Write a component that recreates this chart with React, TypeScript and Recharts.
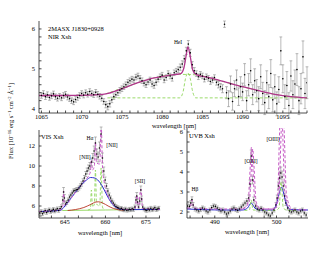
import React from 'react';
import { LineChart, Line, XAxis, YAxis, ErrorBar } from 'recharts';

type P3 = [number, number, number];
type P2 = [number, number];

const FONT = '"Liberation Serif", "DejaVu Serif", serif';

// ---------------- NIR panel ----------------
const nirPoints: P3[] = [
  [1065.0, 4.33, 0.07], [1065.25, 4.38, 0.07], [1065.5, 4.3, 0.07], [1065.75, 4.35, 0.07], [1066.0, 4.28, 0.07],
  [1066.25, 4.32, 0.07], [1066.5, 4.37, 0.07], [1066.75, 4.3, 0.07], [1067.0, 4.26, 0.07], [1067.25, 4.31, 0.07],
  [1067.5, 4.27, 0.07], [1067.75, 4.33, 0.07], [1068.0, 4.36, 0.07], [1068.25, 4.29, 0.07], [1068.5, 4.25, 0.07],
  [1068.75, 4.2, 0.07], [1069.0, 4.17, 0.07], [1069.25, 4.23, 0.07], [1069.5, 4.28, 0.07], [1069.75, 4.33, 0.07],
  [1070.0, 4.38, 0.07], [1070.25, 4.34, 0.07], [1070.5, 4.4, 0.07], [1070.75, 4.36, 0.07], [1071.0, 4.43, 0.07],
  [1071.25, 4.38, 0.07], [1071.5, 4.35, 0.07], [1071.75, 4.41, 0.07], [1072.0, 4.36, 0.07], [1072.25, 4.31, 0.07],
  [1072.5, 4.26, 0.07], [1072.75, 4.18, 0.07], [1073.0, 4.1, 0.08], [1073.25, 4.05, 0.08], [1073.5, 4.12, 0.08],
  [1073.75, 4.22, 0.07], [1074.0, 4.3, 0.07], [1074.25, 4.35, 0.07], [1074.5, 4.4, 0.07], [1074.75, 4.46, 0.07],
  [1075.0, 4.5, 0.07], [1075.25, 4.55, 0.07], [1075.5, 4.6, 0.07], [1075.75, 4.66, 0.07], [1076.0, 4.7, 0.07],
  [1076.25, 4.74, 0.07], [1076.5, 4.72, 0.07], [1076.75, 4.79, 0.07], [1077.0, 4.82, 0.07], [1077.25, 4.76, 0.07],
  [1077.5, 4.7, 0.07], [1077.75, 4.64, 0.07], [1078.0, 4.6, 0.07], [1078.25, 4.67, 0.07], [1078.5, 4.72, 0.07],
  [1078.75, 4.62, 0.07], [1079.0, 4.58, 0.07], [1079.25, 4.66, 0.07], [1079.5, 4.74, 0.07], [1079.75, 4.8, 0.07],
  [1080.0, 4.84, 0.07], [1080.25, 4.72, 0.07], [1080.5, 4.78, 0.07], [1080.75, 4.88, 0.07], [1081.0, 4.82, 0.07],
  [1081.25, 4.76, 0.07], [1081.5, 4.9, 0.07], [1081.75, 4.94, 0.07], [1082.0, 4.98, 0.07], [1082.25, 5.04, 0.08],
  [1082.5, 5.12, 0.08], [1082.75, 5.25, 0.08], [1083.0, 5.45, 0.09], [1083.25, 5.62, 0.09], [1083.5, 5.4, 0.09],
  [1083.75, 5.1, 0.08], [1084.0, 4.95, 0.08], [1084.25, 4.88, 0.07], [1084.5, 4.8, 0.07], [1084.75, 4.86, 0.07],
  [1085.0, 4.82, 0.07], [1085.25, 4.74, 0.07], [1085.5, 4.8, 0.07], [1085.75, 4.76, 0.07], [1086.0, 4.68, 0.07],
  [1086.25, 4.72, 0.07], [1086.5, 4.78, 0.07], [1086.75, 4.66, 0.07], [1087.0, 4.6, 0.08], [1087.25, 4.55, 0.08],
  [1087.5, 4.5, 0.1],
  [1087.75, 6.12, 0.08], [1088.0, 4.4, 0.15], [1088.25, 4.25, 0.2], [1088.5, 4.62, 0.2], [1088.75, 4.18, 0.22],
  [1089.0, 4.5, 0.2], [1089.25, 4.72, 0.25], [1089.5, 4.3, 0.22], [1089.75, 4.55, 0.25], [1090.0, 4.42, 0.22],
  [1090.25, 4.85, 0.28], [1090.5, 4.2, 0.25], [1090.75, 4.6, 0.28], [1091.0, 4.95, 0.3], [1091.25, 4.35, 0.25],
  [1091.5, 4.7, 0.3], [1091.75, 4.45, 0.28], [1092.0, 4.25, 0.3], [1092.25, 4.8, 0.3], [1092.5, 4.38, 0.28],
  [1092.75, 4.15, 0.3], [1093.0, 4.65, 0.3], [1093.25, 4.3, 0.3], [1093.5, 4.88, 0.35], [1093.75, 4.22, 0.3],
  [1094.0, 4.55, 0.3], [1094.25, 4.12, 0.3], [1094.5, 4.48, 0.32], [1094.75, 5.45, 0.35], [1095.0, 4.75, 0.35],
  [1095.25, 4.3, 0.3], [1095.5, 4.58, 0.35], [1095.75, 4.08, 0.32], [1096.0, 4.82, 0.38], [1096.25, 4.35, 0.35],
  [1096.5, 4.62, 0.35], [1096.75, 4.98, 0.4], [1097.0, 4.2, 0.35], [1097.25, 4.5, 0.38], [1097.5, 5.3, 0.4],
  [1097.75, 4.38, 0.38], [1098.0, 4.65, 0.4],
];
const nirModel: P2[] = [
  [1064.7, 4.33], [1068, 4.33], [1071, 4.34], [1073, 4.37], [1075, 4.5], [1077, 4.65], [1079, 4.77],
  [1081, 4.84], [1082.3, 4.88], [1082.7, 5.02], [1083.0, 5.35], [1083.2, 5.55], [1083.5, 5.3],
  [1083.8, 4.97], [1084.2, 4.86], [1086, 4.77], [1088, 4.66], [1090, 4.55], [1092, 4.45],
  [1094, 4.36], [1096, 4.3], [1098, 4.27],
];
const nirNarrow: P2[] = [
  [1073.2, 4.27], [1082.2, 4.27], [1082.6, 4.42], [1082.9, 4.75], [1083.2, 4.9], [1083.5, 4.75],
  [1083.8, 4.42], [1084.2, 4.27], [1098, 4.27],
];
const nirBroad: P2[] = [
  [1073, 4.37], [1076, 4.58], [1079, 4.77], [1082, 4.86], [1084, 4.85], [1087, 4.71], [1090, 4.55],
  [1093, 4.4], [1096, 4.3], [1098, 4.27],
];
const nirXMajor = [1065, 1070, 1075, 1080, 1085, 1090, 1095];
const nirXMinor = [1066, 1067, 1068, 1069, 1071, 1072, 1073, 1074, 1076, 1077, 1078, 1079, 1081, 1082, 1083, 1084, 1086, 1087, 1088, 1089, 1091, 1092, 1093, 1094, 1096, 1097, 1098];
const nirYMajor = [4, 5, 6];
const nirYMinor = [4.2, 4.4, 4.6, 4.8, 5.2, 5.4, 5.6, 5.8];

// ---------------- VIS panel ----------------
const visPoints: P3[] = [
  [635.7, 5.3, 0.18], [636.2, 5.45, 0.18], [636.7, 5.22, 0.18], [637.2, 5.4, 0.18], [637.7, 5.55, 0.18],
  [638.2, 5.35, 0.18], [638.7, 5.5, 0.18], [639.2, 5.62, 0.18], [639.7, 5.45, 0.18], [640.2, 5.52, 0.18],
  [640.7, 5.66, 0.18], [641.2, 5.5, 0.18], [641.7, 5.6, 0.18], [642.2, 5.72, 0.18], [642.7, 5.55, 0.18],
  [643.2, 5.75, 0.2], [643.7, 5.92, 0.2], [644.2, 6.6, 0.35], [644.5, 7.4, 0.45], [644.8, 6.8, 0.35],
  [645.2, 6.2, 0.2], [645.7, 6.35, 0.2], [646.2, 6.6, 0.2], [646.7, 6.9, 0.2], [647.2, 7.1, 0.2],
  [647.7, 7.3, 0.2], [648.2, 7.5, 0.2], [648.7, 7.55, 0.2], [649.2, 7.62, 0.2], [649.7, 7.65, 0.2],
  [650.2, 7.8, 0.2], [650.7, 8.0, 0.22], [651.2, 8.2, 0.22], [651.7, 8.5, 0.22], [652.2, 8.8, 0.25],
  [652.7, 9.2, 0.25], [653.2, 9.5, 0.3], [653.7, 9.8, 0.3], [654.2, 10.0, 0.35], [654.8, 10.4, 0.4],
  [655.3, 10.8, 0.45], [655.8, 11.5, 0.5], [656.3, 12.3, 0.6], [656.8, 11.2, 0.5], [657.3, 10.9, 0.5],
  [657.8, 11.8, 0.6], [658.4, 13.2, 0.7], [658.9, 10.8, 0.5], [659.4, 9.5, 0.4], [659.9, 8.6, 0.3],
  [660.4, 8.0, 0.25], [660.9, 7.5, 0.22], [661.4, 7.1, 0.2], [661.9, 6.8, 0.2], [662.4, 6.5, 0.2],
  [662.9, 6.3, 0.2], [663.4, 6.1, 0.18], [663.9, 5.95, 0.18], [664.4, 5.85, 0.18], [664.9, 5.8, 0.18],
  [665.4, 5.7, 0.18], [665.9, 5.76, 0.18], [666.4, 5.65, 0.18], [666.9, 5.6, 0.18], [667.4, 5.7, 0.18],
  [667.9, 5.58, 0.18], [668.4, 5.6, 0.18], [668.9, 5.68, 0.18], [669.4, 5.62, 0.18], [669.9, 5.72, 0.18],
  [670.4, 5.65, 0.18], [670.9, 5.9, 0.2], [671.3, 6.6, 0.3], [671.6, 7.0, 0.35], [671.9, 6.4, 0.3],
  [672.3, 5.9, 0.2], [672.7, 6.5, 0.3], [673.1, 7.6, 0.4], [673.4, 6.7, 0.3], [673.8, 5.9, 0.2],
  [674.3, 5.7, 0.18], [674.8, 5.6, 0.18], [675.3, 5.55, 0.18], [675.8, 5.7, 0.18], [676.3, 5.6, 0.18],
  [676.8, 5.78, 0.18], [677.3, 5.62, 0.18], [677.8, 5.7, 0.18], [678.3, 5.82, 0.18], [678.8, 5.64, 0.18],
  [679.3, 5.7, 0.18], [679.8, 5.78, 0.18],
];
const visCont: P2[] = [[644, 5.55], [660, 5.6], [680, 5.68]];
const visNarrow: P2[] = [
  [653.5, 5.6], [654.4, 5.7], [654.8, 7.6], [655.2, 5.9], [655.9, 6.2], [656.3, 9.6], [656.7, 6.2],
  [657.9, 6.0], [658.4, 9.8], [658.9, 5.9], [659.6, 5.6],
];
const visBroad: P2[] = [
  [635.4, 5.45], [640, 5.5], [643.5, 5.6], [645, 6.0], [647, 6.7], [649, 7.4], [651, 8.1], [653, 8.6],
  [654.5, 8.85], [656, 8.8], [657.5, 8.5], [659, 7.9], [660.5, 7.1], [662, 6.4], [663.5, 5.95],
  [665, 5.72], [667, 5.63], [680.2, 5.66],
];
const visRed: P2[] = [
  [646, 5.55], [649, 5.65], [652, 5.85], [654.5, 6.15], [656.5, 6.4], [657.5, 6.42], [659, 6.3],
  [661, 6.0], [663, 5.75], [665, 5.62], [667, 5.58],
];
const visTotal: P2[] = [
  [635.4, 5.45], [643.5, 5.65], [644.2, 5.9], [644.5, 7.5], [644.8, 6.1], [646, 6.3], [648, 7.05],
  [650, 7.75], [652, 8.45], [653.5, 8.9], [654.4, 9.4], [654.8, 10.6], [655.2, 9.6], [655.9, 10.0],
  [656.3, 12.4], [656.7, 10.3], [657.9, 10.2], [658.4, 14.5], [658.9, 10.0], [659.6, 8.3], [661, 7.0],
  [663, 6.15], [665, 5.8], [668, 5.65], [671, 5.7], [671.6, 7.1], [672.2, 5.8], [673.1, 7.7],
  [673.8, 5.75], [680.2, 5.68],
];
const visXMajor = [645, 660, 675];
const visXMinor = [640, 650, 655, 665, 670, 680];
const visYMajor = [6, 8, 10, 12];
const visYMinor = [5, 7, 9, 11, 13];

// ---------------- UVB panel ----------------
const uvbPoints: P3[] = [
  [485.6, 2.3, 0.1], [485.9, 2.28, 0.1], [486.1, 2.45, 0.12], [486.3, 2.62, 0.14], [486.5, 2.35, 0.12],
  [486.8, 2.15, 0.1], [487.1, 2.1, 0.1], [487.4, 2.05, 0.1], [487.7, 2.12, 0.1], [488.0, 2.2, 0.1],
  [488.3, 2.15, 0.1], [488.6, 2.05, 0.1], [488.9, 2.0, 0.1], [489.2, 2.1, 0.1], [489.5, 2.22, 0.1],
  [489.8, 2.3, 0.1], [490.1, 2.28, 0.1], [490.4, 2.2, 0.1], [490.7, 2.12, 0.1], [491.0, 2.05, 0.1],
  [491.3, 2.1, 0.1], [491.6, 2.0, 0.1], [491.9, 1.9, 0.1], [492.2, 1.95, 0.1], [492.5, 2.05, 0.1],
  [492.8, 2.15, 0.1], [493.1, 2.2, 0.1], [493.4, 2.12, 0.1], [493.7, 2.08, 0.1], [494.0, 2.15, 0.1],
  [494.3, 2.25, 0.1], [494.6, 2.35, 0.1], [494.9, 2.45, 0.1], [495.2, 2.55, 0.12], [495.5, 2.7, 0.15],
  [495.7, 3.4, 0.2], [495.9, 4.8, 0.3], [496.1, 3.6, 0.2], [496.3, 2.6, 0.15], [496.6, 2.3, 0.1],
  [496.9, 2.15, 0.1], [497.2, 2.1, 0.1], [497.5, 2.18, 0.1], [497.8, 2.1, 0.1], [498.1, 2.0, 0.1],
  [498.4, 1.95, 0.1], [498.7, 1.85, 0.1], [499.0, 1.8, 0.1], [499.3, 1.95, 0.1], [499.6, 2.1, 0.1],
  [499.9, 2.35, 0.12], [500.1, 2.7, 0.15], [500.3, 3.3, 0.2], [500.5, 3.7, 0.3], [500.7, 3.95, 0.3],
  [500.9, 3.75, 0.3], [501.1, 3.3, 0.2], [501.3, 2.8, 0.15], [501.5, 2.45, 0.12], [501.8, 2.2, 0.1],
  [502.1, 2.05, 0.1], [502.4, 2.0, 0.1], [502.7, 2.05, 0.1], [503.0, 2.1, 0.1], [503.3, 2.0, 0.1],
  [503.6, 1.95, 0.1], [503.9, 2.05, 0.1], [504.2, 2.1, 0.1], [504.5, 1.95, 0.1], [504.8, 1.85, 0.1],
];
const uvbBlue: P2[] = [
  [485.5, 2.15], [488, 2.12], [492, 2.1], [494.5, 2.1], [495.3, 2.2], [495.9, 2.45], [496.5, 2.2],
  [497.3, 2.1], [499.3, 2.1], [500.0, 2.4], [500.5, 3.0], [500.8, 3.25], [501.1, 3.0], [501.6, 2.4],
  [502.3, 2.12], [505.1, 2.1],
];
const uvbGreen: P2[] = [
  [494.8, 2.08], [495.6, 2.1], [495.9, 2.6], [496.2, 2.1], [499.8, 2.08], [500.4, 2.2], [500.75, 3.5],
  [501.1, 2.2], [501.8, 2.08], [503.5, 2.08],
];
const uvbMag: P2[] = [
  [485.5, 2.2], [486.0, 2.2], [486.3, 2.6], [486.6, 2.2], [489, 2.15], [494.5, 2.15], [495.4, 2.5],
  [495.75, 4.3], [495.95, 5.25], [496.15, 4.3], [496.5, 2.5], [497.3, 2.15], [499.5, 2.15], [500.2, 2.9],
  [500.45, 5.5], [500.75, 8.0], [501.05, 5.5], [501.35, 2.9], [502.2, 2.15], [505.1, 2.1],
];
const uvbMag2: P2[] = [
  [494.5, 2.15], [495.6, 2.5], [495.95, 4.3], [496.15, 5.15], [496.35, 4.3], [496.7, 2.5], [497.5, 2.15],
  [499.7, 2.15], [500.4, 2.9], [500.7, 5.5], [501.0, 8.0], [501.3, 5.5], [501.6, 2.9], [502.4, 2.15],
];
const uvbXMajor = [490, 500];
const uvbXMinor = [486, 488, 492, 494, 496, 498, 502, 504];
const uvbYMajor = [2, 3, 4, 5, 6];
const uvbYMinor = [2.5, 3.5, 4.5, 5.5];

// ---------------- helpers ----------------
const pts = (a: P3[]) => a.map(([x, y, e]) => ({ x, y, e }));
const crv = (a: P2[]) => a.map(([x, y]) => ({ x, y }));

const MAG = '#b0348c';
const PINK = '#c55ac5';
const GREEN = '#8ed65a';
const BLUE = '#2b2bd0';
const RED = '#b83222';

type PanelProps = {
  left: number; top: number; w: number; h: number;
  xDomain: [number, number]; yDomain: [number, number];
  xMajor: number[]; xMinor: number[]; yMajor: number[]; yMinor: number[];
  children: React.ReactNode;
};

function Panel(p: PanelProps) {
  const yW = 30, xH = 20, m = 4;
  const xt = [...p.xMajor, ...p.xMinor].sort((a, b) => a - b);
  const yt = [...p.yMajor, ...p.yMinor].sort((a, b) => a - b);
  const fx = (v: number) => (p.xMajor.includes(v) ? String(v) : '');
  const fy = (v: number) => (p.yMajor.includes(v) ? String(v) : '');
  const tickStyle = { fontSize: 6.5, fill: '#000', fontFamily: FONT };
  return (
    <div style={{ position: 'absolute', left: p.left - yW, top: p.top - m }}>
      <LineChart width={yW + p.w + m} height={m + p.h + xH} margin={{ top: m, right: m, bottom: 0, left: 0 }}>
        <XAxis xAxisId="b" type="number" dataKey="x" domain={p.xDomain} allowDataOverflow ticks={xt}
          interval={0} tickFormatter={fx} height={xH} tickSize={-2.5} tickMargin={4} stroke="#222"
          strokeWidth={0.8} tick={tickStyle} />
        <XAxis xAxisId="t" orientation="top" type="number" dataKey="x" domain={p.xDomain} allowDataOverflow
          ticks={xt} interval={0} tickFormatter={() => ''} height={0} tickSize={-2.5} stroke="#222" strokeWidth={0.8} />
        <YAxis yAxisId="l" type="number" domain={p.yDomain} allowDataOverflow ticks={yt} interval={0}
          tickFormatter={fy} width={yW} tickSize={-2.5} tickMargin={6.5} stroke="#222" strokeWidth={0.8} tick={tickStyle} />
        <YAxis yAxisId="r" orientation="right" type="number" domain={p.yDomain} allowDataOverflow ticks={yt}
          interval={0} tickFormatter={() => ''} width={0} tickSize={-2.5} stroke="#222" strokeWidth={0.8} />
        {p.children}
      </LineChart>
    </div>
  );
}

function dataLine(key: string, a: P3[]) {
  return (
    <Line key={key} xAxisId="b" yAxisId="l" data={pts(a)} dataKey="y" stroke="none" isAnimationActive={false}
      dot={{ r: 0.8, fill: '#000', stroke: 'none' }} activeDot={false}>
      <ErrorBar dataKey="e" width={1.4} stroke="#8a8a8a" strokeWidth={0.6} />
    </Line>
  );
}

function curve(key: string, a: P2[], color: string, dashed: boolean, sw = 1) {
  return (
    <Line key={key} xAxisId="b" yAxisId="l" data={crv(a)} dataKey="y" type="monotone" stroke={color}
      strokeWidth={sw} strokeDasharray={dashed ? '3 2' : undefined} dot={false} activeDot={false}
      isAnimationActive={false} />
  );
}

function T({ x, y, s = 5.5, children }: { x: number; y: number; s?: number; children: React.ReactNode }) {
  return (
    <div style={{ position: 'absolute', left: x, top: y, transform: 'translate(-50%, -50%)', fontSize: s,
      fontFamily: FONT, lineHeight: 1, whiteSpace: 'nowrap', color: '#000' }}>{children}</div>
  );
}

function TL({ x, y, s = 6.5, children }: { x: number; y: number; s?: number; children: React.ReactNode }) {
  return (
    <div style={{ position: 'absolute', left: x, top: y, transform: 'translateY(-50%)', fontSize: s,
      fontFamily: FONT, lineHeight: 1, whiteSpace: 'nowrap', color: '#000' }}>{children}</div>
  );
}

const sup: React.CSSProperties = { fontSize: '0.7em', verticalAlign: '0.45em', lineHeight: 0 };

export default function App() {
  return (
    <div style={{ position: 'absolute', left: 0, top: 0, width: 330, height: 255, background: '#fff', overflow: 'hidden' }}>
      <Panel left={39} top={21} w={268} h={92} xDomain={[1064.7, 1098.0]} yDomain={[3.89, 6.2]}
        xMajor={nirXMajor} xMinor={nirXMinor} yMajor={nirYMajor} yMinor={nirYMinor}>
        {dataLine('d', nirPoints)}
        {curve('b', nirBroad, GREEN, true, 0.9)}
        {curve('n', nirNarrow, GREEN, true, 0.9)}
        {curve('m', nirModel, MAG, false, 1.3)}
      </Panel>

      <Panel left={39} top={130} w={121} h={88} xDomain={[635.4, 680.2]} yDomain={[4.8, 13.6]}
        xMajor={visXMajor} xMinor={visXMinor} yMajor={visYMajor} yMinor={visYMinor}>
        {dataLine('d', visPoints)}
        {curve('c', visCont, GREEN, false, 0.9)}
        {curve('n', visNarrow, GREEN, true, 0.9)}
        {curve('r', visRed, RED, false, 0.9)}
        {curve('b', visBroad, BLUE, false, 1)}
        {curve('t', visTotal, PINK, true, 1)}
      </Panel>

      <Panel left={187} top={128} w={121} h={90} xDomain={[485.5, 505.1]} yDomain={[1.7, 6.2]}
        xMajor={uvbXMajor} xMinor={uvbXMinor} yMajor={uvbYMajor} yMinor={uvbYMinor}>
        {dataLine('d', uvbPoints)}
        {curve('b', uvbBlue, BLUE, false, 1)}
        {curve('g', uvbGreen, GREEN, true, 0.9)}
        {curve('m', uvbMag, PINK, true, 1)}
        {curve('m2', uvbMag2, PINK, true, 1)}
      </Panel>

      {/* panel texts */}
      <TL x={48} y={29}>2MASX J1830+0928</TL>
      <TL x={48} y={37}>NIR Xsh</TL>
      <T x={178} y={43}>HeI</T>

      <TL x={41} y={137}>VIS Xsh</TL>
      <T x={90} y={139}>Hα</T>
      <T x={85} y={158}>[NII]</T>
      <T x={112} y={146}>[NII]</T>
      <T x={140} y={182}>[SII]</T>

      <TL x={189} y={136}>UVB Xsh</TL>
      <T x={195} y={190}>Hβ</T>
      <T x={251} y={162}>[OIII]</T>
      <T x={273} y={140}>[OIII]</T>

      {/* axis titles */}
      <T x={174} y={125.5} s={6.5}>wavelength [nm]</T>
      <T x={100} y={233} s={6.5}>wavelength [nm]</T>
      <T x={247} y={232} s={6.5}>wavelength [nm]</T>
      <div style={{ position: 'absolute', left: 11, top: 121, transform: 'translate(-50%, -50%) rotate(-90deg)',
        fontSize: 6.5, fontFamily: FONT, lineHeight: 1, whiteSpace: 'nowrap', color: '#000' }}>
        Flux [10<span style={sup}>−16</span> erg s<span style={sup}>−1</span> cm<span style={sup}>−2</span> Å<span style={sup}>−1</span>]
      </div>
    </div>
  );
}
